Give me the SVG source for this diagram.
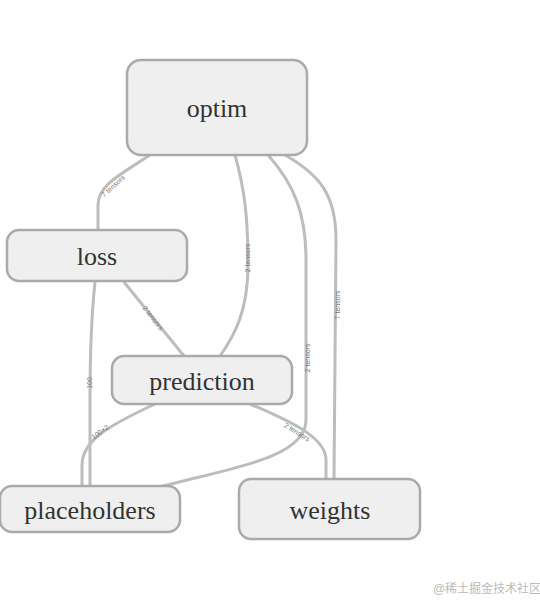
<svg xmlns="http://www.w3.org/2000/svg" width="540" height="600" viewBox="0 0 540 600">
<style>
.node rect{fill:#efefef;stroke:#aaaaaa;stroke-width:2.5}
.node text{font-family:"Liberation Serif",serif;font-size:26px;fill:#333;text-anchor:middle;dominant-baseline:central}
.edge{fill:none;stroke:#bdbdbd;stroke-width:3}
.lbl{font-family:"Liberation Sans",sans-serif;font-size:7px;fill:#777;text-anchor:middle;dominant-baseline:central}
.wm{font-family:"Liberation Sans","Noto Sans CJK SC",sans-serif;font-size:12px;fill:#bbb;text-anchor:middle}
</style>
<rect width="540" height="600" fill="#fff"/>
<g id="connectors">
<path class="edge" d="M150,155 C120,175 98,185 98,205 L98,230"/>
<path class="edge" d="M235,155 C245,190 248,220 248,265 C248,310 235,335 220,356"/>
<path class="edge" d="M268,155 C295,185 306,215 306,260 L306,420 C306,460 220,470 160,487"/>
<path class="edge" d="M285,155 C320,175 336,195 336,240 L334,479"/>
<path class="edge" d="M124,282 L184,356"/>
<path class="edge" d="M95,282 C91,320 90,350 90,400 L90,486"/>
<path class="edge" d="M155,404 C110,425 82,440 82,465 L82,487"/>
<path class="edge" d="M250,404 C300,425 326,440 326,460 L326,479"/>
<text class="lbl" transform="translate(113,186) rotate(-42)">7 tensors</text>
<text class="lbl" transform="translate(247,258) rotate(-90)">2 tensors</text>
<text class="lbl" transform="translate(153,318) rotate(52)">2 tensors</text>
<text class="lbl" transform="translate(307,358) rotate(-90)">2 tensors</text>
<text class="lbl" transform="translate(337,305) rotate(-90)">7 tensors</text>
<text class="lbl" transform="translate(89,383) rotate(-90)">100</text>
<text class="lbl" transform="translate(100,432) rotate(-36)">100×2</text>
<text class="lbl" transform="translate(297,432) rotate(32)">2 tensors</text>
</g>
<g id="optim" class="node"><rect x="127" y="60" width="180" height="95" rx="14"/><text x="217" y="108">optim</text></g>
<g id="loss" class="node"><rect x="7" y="230" width="180" height="51" rx="12"/><text x="97" y="256">loss</text></g>
<g id="prediction" class="node"><rect x="112" y="356" width="180" height="48" rx="12"/><text x="202" y="381">prediction</text></g>
<g id="placeholders" class="node"><rect x="0" y="486" width="180" height="46" rx="12"/><text x="90" y="510">placeholders</text></g>
<g id="weights" class="node"><rect x="239" y="479" width="181" height="60" rx="12"/><text x="330" y="510">weights</text></g>
<text class="wm" x="487" y="593">@稀土掘金技术社区</text>
</svg>
